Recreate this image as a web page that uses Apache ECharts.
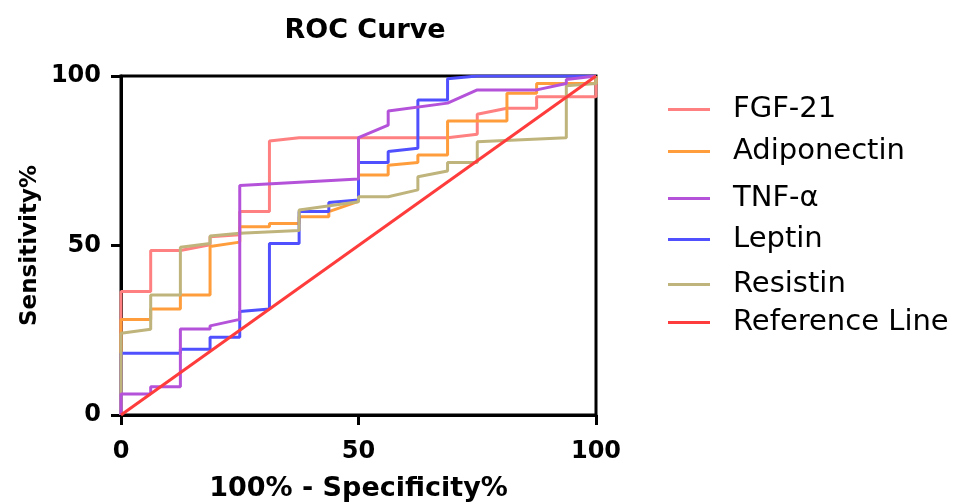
<!DOCTYPE html>
<html>
<head>
<meta charset="utf-8">
<script src="https://cdn.jsdelivr.net/npm/echarts@6/dist/echarts.min.js"></script>
<style>html,body{margin:0;padding:0;background:#fff}#c{width:957px;height:504px}</style>
</head>
<body>
<div id="c"></div>
<script>
// ROC curve points: [100% - Specificity%, Sensitivity%]
const fgf21 = [[0,0],[0,36.4],[6.25,36.4],[6.25,48.5],[12.5,48.5],[18.75,50.2],[18.75,52.6],[25,53.2],[25,60],[31.25,60],[31.25,80.8],[37.5,81.8],[68.75,81.8],[75,82.8],[75,88.7],[81.25,90.5],[87.5,90.5],[87.5,93.9],[100,93.9],[100,100]];
const adiponectin = [[0,0],[0,28.2],[6.25,28.2],[6.25,31.3],[12.5,31.3],[12.5,35.4],[18.75,35.4],[18.75,49.7],[25,51],[25,55.5],[31.25,55.5],[31.25,56.5],[37.5,56.5],[37.5,58.5],[43.75,58.5],[43.75,60],[50,63],[50,70.8],[56.25,70.8],[56.25,73.7],[62.5,74.5],[62.5,76.7],[68.75,76.7],[68.75,86.7],[81.25,86.7],[81.25,94.9],[87.5,94.9],[87.5,97.8],[100,97.8],[100,100]];
const tnfAlpha = [[0,0],[0,6.2],[6.25,6.2],[6.25,8.3],[12.5,8.3],[12.5,25.4],[18.75,25.4],[18.75,26.3],[25,28.2],[25,67.7],[50,69.6],[50,81.8],[56.25,85.5],[56.25,89.7],[68.75,92],[75,95.9],[87.5,95.9],[93.75,97.8],[93.75,99],[100,100]];
const leptin = [[0,0],[0,18.2],[12.5,18.2],[12.5,19.4],[18.75,19.4],[18.75,22.9],[25,22.9],[25,30.5],[31.25,31.3],[31.25,50.6],[37.5,50.6],[37.5,60],[43.75,60],[43.75,62.7],[50,63.4],[50,74.5],[56.25,74.5],[56.25,77.7],[62.5,78.7],[62.5,92.9],[68.75,92.9],[68.75,99.2],[75,100],[100,100]];
const resistin = [[0,0],[0,24.1],[6.25,25.3],[6.25,35.4],[12.5,35.4],[12.5,49.5],[18.75,50.6],[18.75,52.8],[25,53.6],[37.5,54.4],[37.5,60.5],[50,62.9],[50,64.4],[56.25,64.4],[62.5,66.4],[62.5,70.3],[68.75,72],[68.75,74.5],[75,74.5],[75,80.6],[93.75,81.8],[93.75,97.1],[100,97.8],[100,100]];
const referenceLine = [[0,0],[100,100]];

const legendNames = ['FGF-21','Adiponectin','TNF-α','Leptin','Resistin','Reference Line'];
const xTicks = [0,50,100];
const yTicks = [0,50,100];

const colors = {
  'FGF-21':'#FF8080',
  'Adiponectin':'#FF9D3C',
  'TNF-α':'#B452DA',
  'Leptin':'#5050FF',
  'Resistin':'#BFB47C',
  'Reference Line':'#FF3C3C'
};
const seriesData = {
  'FGF-21':fgf21,'Adiponectin':adiponectin,'TNF-α':tnfAlpha,
  'Leptin':leptin,'Resistin':resistin,'Reference Line':referenceLine
};
// drawing order (bottom to top)
const drawOrder = ['FGF-21','Adiponectin','Leptin','Resistin','TNF-α','Reference Line'];
const legendCenters = [110,152,199,240,285,323];

const bold = {fontFamily:'DejaVu Sans',fontWeight:'bold',color:'#000'};
const chart = echarts.init(document.getElementById('c'));
chart.setOption({
  animation:false,
  backgroundColor:'#fff',
  title:{text:'ROC Curve',left:360,top:12,textAlign:'center',
    textStyle:Object.assign({fontSize:27},bold)},
  grid:{left:121,right:361,top:76,bottom:89,show:true,borderColor:'#000',borderWidth:3,
    backgroundColor:'transparent',containLabel:false,outerBoundsMode:'none'},
  xAxis:{type:'value',min:xTicks[0],max:xTicks[xTicks.length-1],interval:50,
    name:'100% - Specificity%',nameLocation:'middle',nameGap:60,
    nameTextStyle:Object.assign({fontSize:27},bold),
    axisLine:{lineStyle:{color:'#000',width:3}},
    axisTick:{length:10,lineStyle:{color:'#000',width:3}},
    axisLabel:Object.assign({fontSize:24,margin:25},bold),
    splitLine:{show:false}},
  yAxis:{type:'value',min:yTicks[0],max:yTicks[yTicks.length-1],interval:50,
    name:'Sensitivity%',nameLocation:'middle',nameGap:79,
    nameTextStyle:Object.assign({fontSize:23},bold),
    axisLine:{lineStyle:{color:'#000',width:3}},
    axisTick:{length:10,lineStyle:{color:'#000',width:3}},
    axisLabel:Object.assign({fontSize:24,margin:20},bold),
    splitLine:{show:false}},
  legend:legendNames.map((n,i)=>({
    data:[n],left:668,top:legendCenters[i]-15,padding:0,icon:'rect',
    itemWidth:42,itemHeight:3,selectedMode:false,
    textStyle:{fontFamily:'DejaVu Sans',fontSize:29,color:'#000',padding:[0,0,0,18]}
  })),
  series:drawOrder.map(n=>({
    name:n,type:'line',data:seriesData[n],showSymbol:false,symbol:'none',
    color:colors[n],lineStyle:{width:3,color:colors[n]},itemStyle:{color:colors[n]}
  }))
});
</script>
</body>
</html>
